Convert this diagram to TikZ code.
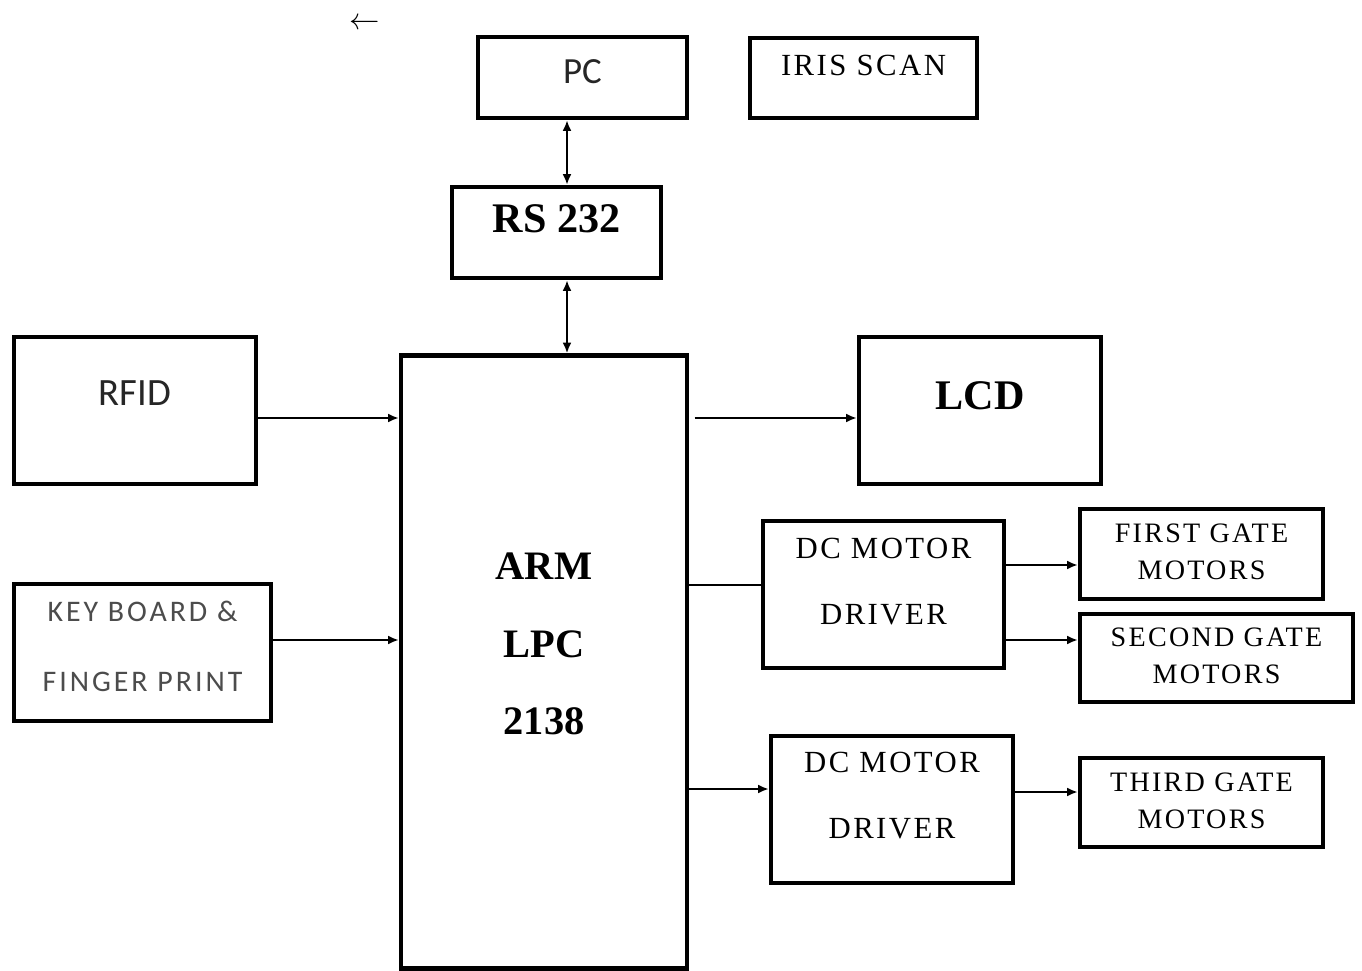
\documentclass[tikz,border=0pt]{standalone}
\usepackage{fontspec}
\setmainfont{Liberation Serif}
\newfontfamily\calib{Carlito}
\newfontfamily\calibwide[LetterSpace=10]{Carlito}
\newfontfamily\serifwide[LetterSpace=8]{Liberation Serif}
\usetikzlibrary{arrows.meta}

\begin{document}
\begin{tikzpicture}[x=0.02cm, y=-0.02cm,
  blk/.style={draw, line width=2.6pt, inner sep=0pt},
  conn/.style={line width=1.1pt, -{Latex[length=6pt,width=5pt]}},
  bothconn/.style={line width=1.1pt, {Latex[length=6pt,width=5pt]}-{Latex[length=6pt,width=5pt]}},
  plainconn/.style={line width=1.1pt},
  sanstxt/.style={font=\calib\fontsize{21}{25}\selectfont, text=black!85},
  boldtxt/.style={font=\bfseries\fontsize{23}{44}\selectfont, align=center},
  widetxt/.style={font=\serifwide\fontsize{16}{21}\selectfont, align=center}
]
\useasboundingbox (0,0) rectangle (1362,970);

\node[inner sep=0pt] (larr) at (365,24) {\fontsize{17}{20}\selectfont$\leftarrow$};

% top row
\node[blk, minimum width=4.18cm, minimum height=1.62cm,
  label={[sanstxt, yshift=3.4pt]center:PC}] (pc) at (582.5,77.5) {};
\node[blk, minimum width=4.54cm, minimum height=1.6cm,
  label={[widetxt, font=\serifwide\fontsize{17.5}{21}\selectfont, yshift=7.4pt]center:IRIS SCAN}] (iris) at (863.5,78) {};
\node[blk, minimum width=4.18cm, minimum height=1.82cm,
  label={[boldtxt, font=\bfseries\fontsize{24}{28}\selectfont, yshift=8pt]center:RS 232}] (rs) at (556.5,232.5) {};

% controller
\node[blk, minimum width=5.72cm, minimum height=12.26cm,
  label={[boldtxt, yshift=10.2pt]center:ARM\\LPC\\2138}] (arm) at (544,662) {};

% inputs
\node[blk, minimum width=4.84cm, minimum height=2.94cm,
  label={[sanstxt, font=\calib\fontsize{22}{26}\selectfont, yshift=10pt]center:RFID}] (rfid) at (135,410.5) {};
\node[blk, minimum width=5.14cm, minimum height=2.74cm,
  label={[font=\calibwide\fontsize{17}{40}\selectfont, text=black!70, align=center, yshift=3.4pt]center:KEY BOARD \&\\FINGER PRINT}] (key) at (142.5,652.5) {};

% outputs
\node[blk, minimum width=4.84cm, minimum height=2.94cm,
  label={[boldtxt, font=\bfseries\fontsize{24}{28}\selectfont, yshift=8.5pt]center:LCD}] (lcd) at (980,410.5) {};
\node[blk, minimum width=4.82cm, minimum height=2.94cm,
  label={[widetxt, font=\serifwide\fontsize{17.5}{38}\selectfont, yshift=7.4pt]center:DC MOTOR\\DRIVER}] (dcone) at (883.5,594.5) {};
\node[blk, minimum width=4.84cm, minimum height=2.94cm,
  label={[widetxt, font=\serifwide\fontsize{17.5}{38}\selectfont, yshift=8pt]center:DC MOTOR\\DRIVER}] (dctwo) at (892,809.5) {};
\node[blk, minimum width=4.86cm, minimum height=1.8cm,
  label={[widetxt, yshift=1pt]center:FIRST GATE\\MOTORS}] (gone) at (1201.5,554) {};
\node[blk, minimum width=5.46cm, minimum height=1.76cm,
  label={[widetxt, yshift=1pt]center:SECOND GATE\\MOTORS}] (gtwo) at (1216.5,658) {};
\node[blk, minimum width=4.86cm, minimum height=1.78cm,
  label={[widetxt, yshift=1pt]center:THIRD GATE\\MOTORS}] (gthree) at (1201.5,802.5) {};

% links
\draw[bothconn] (567,0 |- pc.south) -- (567,0 |- rs.north);
\draw[bothconn] (567,0 |- rs.south) -- (567,0 |- arm.north);
\draw[conn] (rfid.east |- 0,418) -- (arm.west |- 0,418);
\draw[conn] (key.east |- 0,640) -- (arm.west |- 0,640);
\draw[conn] ([xshift=3pt]arm.east |- 0,418) -- (lcd.west |- 0,418);
\draw[plainconn] (arm.east |- 0,585) -- (dcone.west |- 0,585);
\draw[conn] (arm.east |- 0,789) -- (dctwo.west |- 0,789);
\draw[conn] (dcone.east |- 0,565) -- (gone.west |- 0,565);
\draw[conn] (dcone.east |- 0,640) -- (gtwo.west |- 0,640);
\draw[conn] (dctwo.east |- 0,792) -- (gthree.west |- 0,792);
\end{tikzpicture}
\end{document}
